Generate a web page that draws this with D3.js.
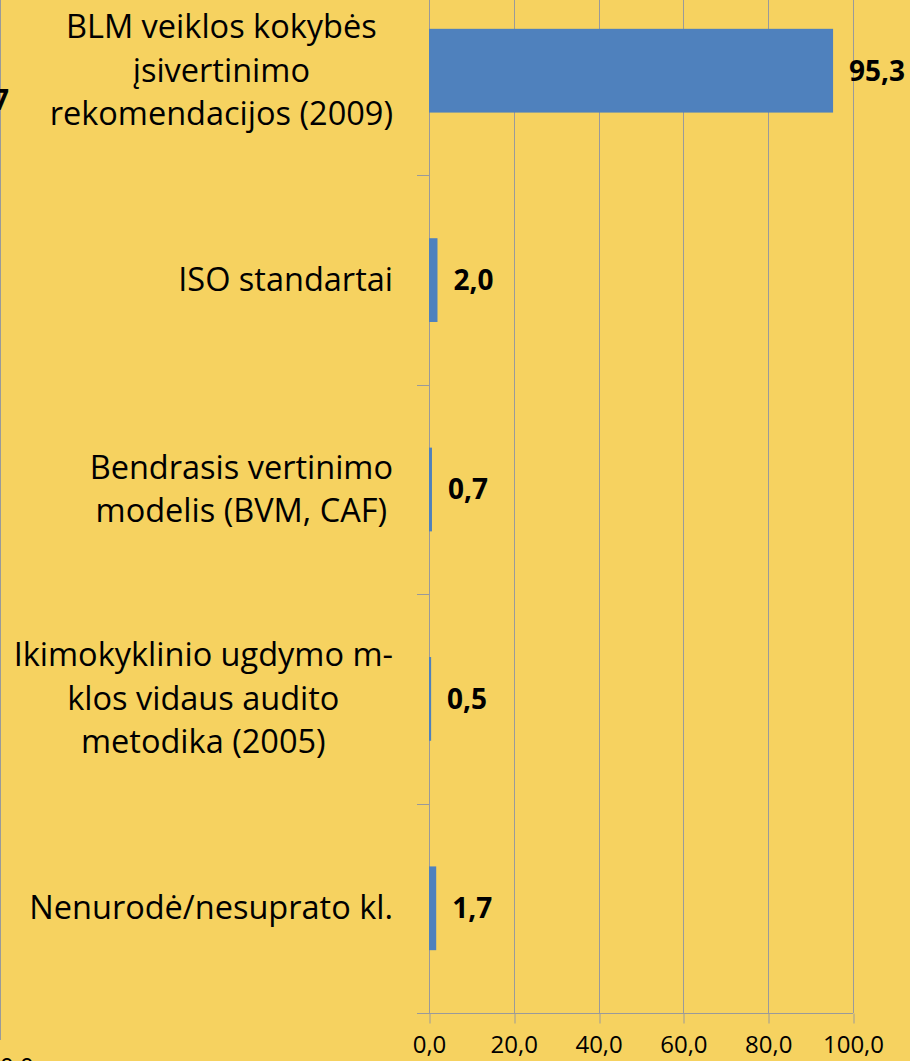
<!DOCTYPE html>
<html>
<head>
<meta charset="utf-8">
<script src="https://cdn.jsdelivr.net/npm/d3@7"></script>
<style>
  html, body { margin: 0; padding: 0; background: #F6D260; }
  svg { display: block; }
  text { font-family: "Open Sans", "Noto Sans", sans-serif; fill: #000; }
</style>
</head>
<body>
<div id="chart"></div>
<script>
// chart values
var categories = [
  "BLM veiklos kokybės\nįsivertinimo\nrekomendacijos (2009)",
  "ISO standartai",
  "Bendrasis vertinimo\nmodelis (BVM, CAF)",
  "Ikimokyklinio ugdymo m-\nklos vidaus audito\nmetodika (2005)",
  "Nenurodė/nesuprato kl."
];
var values = [95.3, 2.0, 0.7, 0.5, 1.7];
var xTicks = [0, 20, 40, 60, 80, 100];

var w_width = 910, w_height = 1061;
var bgColor = '#F6D260', barColor = '#4F81BD', gridColor = '#9A9A9A';

function drawChart(){
    var svg = d3.select('#chart').append('svg')
    .attr('width', w_width)
    .attr('height', w_height)

    svg.append('rect').attr('width', w_width).attr('height', w_height).attr('fill', bgColor)

    // plot area is cut off at the top in the original, so range starts above 0
    var x = d3.scaleLinear().domain([0, 100]).range([429, 853])
    var y = d3.scaleBand().domain(categories).range([-34, 1013])
      .paddingInner(0.6).paddingOuter(0.3)

    var fmt = function(d){ return d3.format('.1f')(d).replace('.', ',') }

    // vertical gridlines
    svg.append('g').selectAll('line')
    .data(xTicks)
    .enter().append('line')
    .attr('x1', d => Math.round(x(d)) + 0.5).attr('x2', d => Math.round(x(d)) + 0.5)
    .attr('y1', 0).attr('y2', y.range()[1])
    .attr('stroke', gridColor).attr('stroke-width', 1)

    // x axis
    var xAxis = svg.append('g')
    .attr('transform', 'translate(0,' + (y.range()[1] + 0.5) + ')')
    .call(d3.axisBottom(x).tickValues(xTicks).tickFormat(fmt).tickSize(10).tickSizeOuter(0).tickPadding(12))
    xAxis.select('.domain').remove()
    xAxis.append('line').attr('x1', 417).attr('x2', x(100)).attr('y1', 0).attr('y2', 0)
      .attr('stroke', gridColor)
    xAxis.selectAll('.tick line').attr('stroke', gridColor)
      .attr('transform', function(d){ return 'translate(' + (Math.round(x(d)) + 0.5 - x(d)) + ',0)' })
    xAxis.selectAll('.tick text').attr('font-size', 24).attr('font-family', '"Open Sans", sans-serif').attr('fill', '#111')

    // y axis line + category separators
    var x0 = Math.round(x(0)) + 0.5
    svg.append('line').attr('x1', x0).attr('x2', x0).attr('y1', 0).attr('y2', y.range()[1])
      .attr('stroke', gridColor)
    svg.append('g').selectAll('line')
    .data(categories.slice(0, -1))
    .enter().append('line')
    .attr('x1', 417).attr('x2', x0)
    .attr('y1', d => Math.round(y(d) + y.bandwidth() + y.step() * y.paddingInner() / 2) + 0.5)
    .attr('y2', d => Math.round(y(d) + y.bandwidth() + y.step() * y.paddingInner() / 2) + 0.5)
    .attr('stroke', gridColor)

    // bars
    svg.append('g').selectAll('rect')
    .data(values)
    .enter().append('rect')
    .attr('x', x(0))
    .attr('y', (d, i) => y(categories[i]))
    .attr('width', d => x(d) - x(0))
    .attr('height', y.bandwidth())
    .attr('fill', barColor)

    // value labels
    svg.append('g').selectAll('text')
    .data(values)
    .enter().append('text')
    .attr('x', d => x(d) + 16)
    .attr('y', (d, i) => y(categories[i]) + y.bandwidth() / 2)
    .attr('dy', '0.35em')
    .attr('font-size', 28).attr('font-weight', 'bold')
    .text(fmt)

    // category labels, centred lines, block right-aligned at 393
    var lineH = 43.5
    categories.forEach(function(c){
        var lines = c.split('\n')
        var g = svg.append('g').attr('class', 'catLabel')
        var cy = y(c) + y.bandwidth() / 2
        var t = g.selectAll('text').data(lines).enter().append('text')
        .attr('font-size', 32.5)
        .attr('text-anchor', 'middle')
        .attr('y', (d, i) => cy + (i - (lines.length - 1) / 2) * lineH)
        .attr('dy', '0.34em')
        .text(d => d)
        var maxW = d3.max(t.nodes(), n => n.getComputedTextLength())
        t.attr('x', 393 - maxW / 2)
    })

    // pieces of the neighbouring chart at the left edge
    svg.append('line').attr('x1', 0.5).attr('x2', 0.5).attr('y1', 0).attr('y2', 1040)
      .attr('stroke', gridColor)
    svg.append('text').attr('x', 9).attr('y', 110).attr('text-anchor', 'end')
      .attr('font-size', 28).attr('font-weight', 'bold').text('7')
    svg.append('text').attr('x', 0).attr('y', 1075)
      .attr('font-size', 24).attr('fill', '#111').text('0,0')
}

drawChart()
</script>
</body>
</html>
